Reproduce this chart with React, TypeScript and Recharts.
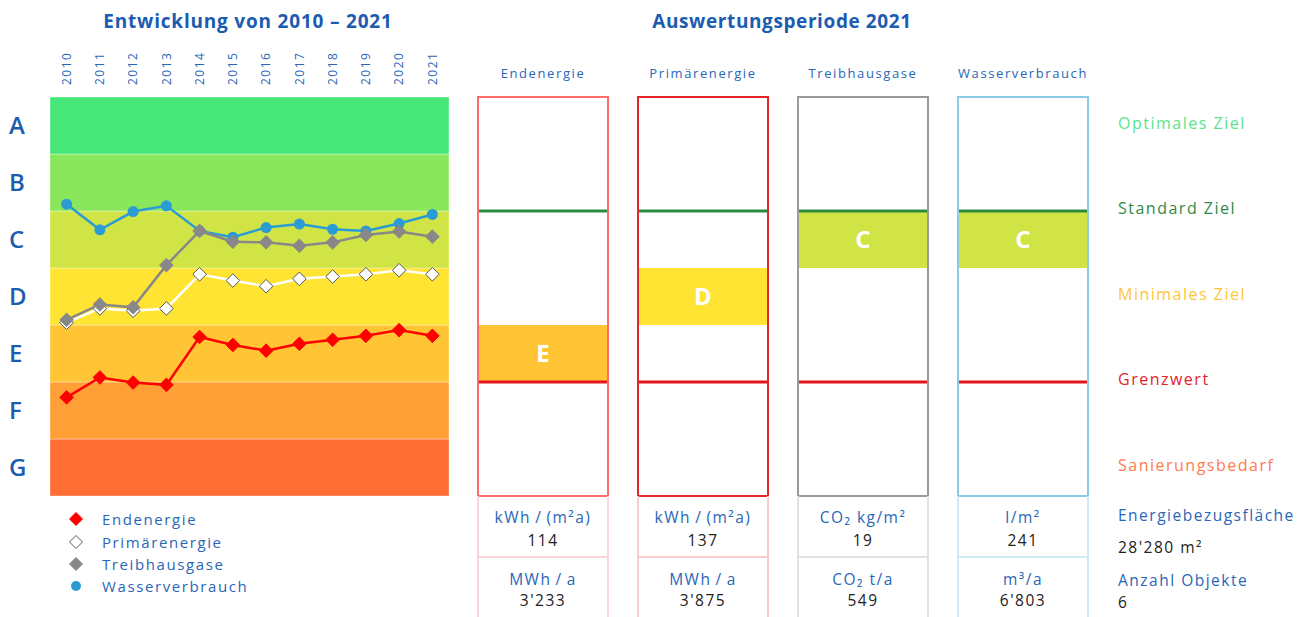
import React from 'react';
import {
  LineChart,
  Line,
  XAxis,
  YAxis,
  ReferenceArea,
  ComposedChart,
  Bar,
  Cell,
  LabelList,
} from 'recharts';

// ---- data ----
const years = ['2010', '2011', '2012', '2013', '2014', '2015', '2016', '2017', '2018', '2019', '2020', '2021'];
// values are positions on the class scale (0 = bottom of G, 7 = top of A)
const endenergie = [1.73, 2.08, 1.99, 1.95, 2.79, 2.65, 2.55, 2.67, 2.74, 2.81, 2.91, 2.81];
const primaerenergie = [3.04, 3.29, 3.25, 3.29, 3.89, 3.78, 3.68, 3.81, 3.85, 3.89, 3.96, 3.89];
const treibhausgase = [3.09, 3.36, 3.31, 4.05, 4.65, 4.46, 4.45, 4.39, 4.45, 4.58, 4.64, 4.55];
const wasserverbrauch = [5.12, 4.67, 4.99, 5.09, 4.65, 4.54, 4.71, 4.77, 4.68, 4.65, 4.78, 4.94];

const classes = ['G', 'F', 'E', 'D', 'C', 'B', 'A'];

const columns = ['Endenergie', 'Primärenergie', 'Treibhausgase', 'Wasserverbrauch'];
const columnRatings = ['E', 'D', 'C', 'C'];
const specificUnits = ['kWh\u2009/\u2009(m²a)', 'kWh\u2009/\u2009(m²a)', 'CO₂ kg/m²', 'l/m²'];
const specificValues = ['114', '137', '19', '241'];
const totalUnits = ['MWh\u2009/\u2009a', 'MWh\u2009/\u2009a', 'CO₂ t/a', 'm³/a'];
const totalValues = ["3'233", "3'875", '549', "6'803"];

const standardZielClass = 'C'; // line on top of this class
const grenzwertClass = 'F';

const targetLabels = ['Optimales Ziel', 'Standard Ziel', 'Minimales Ziel', 'Grenzwert', 'Sanierungsbedarf'];
const targetLevels = [6.5, 5, 3.5, 2, 0.5];

// ---- styles ----
const FONT = '"Open Sans", sans-serif';
const BLUE = '#2a66b8';
const TITLE_BLUE = '#1c5cb0';
const BOX_WIDTH = 130;

const classColors = ['#ff6f35', '#ff9f35', '#ffc534', '#ffe433', '#d1e446', '#8ae75c', '#47e77a'];
const columnStrokes = ['#ff6b6b', '#e3262a', '#9a9a9a', '#8ccbe6'];
const cellBorders = ['#fbd5d5', '#f8cccc', '#e2e2e2', '#d2e9f5'];
const targetColors = ['#5be38a', '#2f8a4a', '#ffc534', '#e3242b', '#ff7b4f'];

const series = [
  { key: 'wasserverbrauch', name: 'Wasserverbrauch', line: '#2b9bd3', fill: '#2b9bd3', stroke: '#2b9bd3', marker: 'circle' },
  { key: 'primaerenergie', name: 'Primärenergie', line: '#ffffff', fill: '#ffffff', stroke: '#555555', marker: 'diamond' },
  { key: 'treibhausgase', name: 'Treibhausgase', line: '#888888', fill: '#888888', stroke: '#888888', marker: 'diamond' },
  { key: 'endenergie', name: 'Endenergie', line: '#ff0000', fill: '#ff0000', stroke: '#ff0000', marker: 'diamond' },
];
const legendOrder = ['endenergie', 'primaerenergie', 'treibhausgase', 'wasserverbrauch'];

const trendData = years.map((year, i) => ({
  year,
  endenergie: endenergie[i],
  primaerenergie: primaerenergie[i],
  treibhausgase: treibhausgase[i],
  wasserverbrauch: wasserverbrauch[i],
}));

const ratingData = columns.map((name, i) => {
  const idx = classes.indexOf(columnRatings[i]);
  return {
    name,
    rating: columnRatings[i],
    band: [idx, idx + 1],
    box: [0, classes.length],
    standard: classes.indexOf(standardZielClass) + 1,
    grenz: classes.indexOf(grenzwertClass) + 1,
  };
});

const diamondPath = (cx: number, cy: number, r: number) =>
  `M${cx},${cy - r}L${cx + r},${cy}L${cx},${cy + r}L${cx - r},${cy}Z`;

const makeDot = (s: (typeof series)[number]) => (props: any) => {
  const { cx, cy, index } = props;
  if (cx == null || cy == null) return <g key={index} />;
  if (s.marker === 'circle') {
    return <circle key={index} cx={cx} cy={cy} r={5.5} fill={s.fill} />;
  }
  return <path key={index} d={diamondPath(cx, cy, 6.8)} fill={s.fill} stroke={s.stroke} strokeWidth={1} />;
};

const renderYearTick = (props: any) => {
  const { x, y, payload } = props;
  return (
    <text
      x={x}
      y={y}
      dy="0.36em"
      transform={`rotate(-90 ${x} ${y})`}
      textAnchor="start"
      fill={BLUE}
      fontSize={12}
      fontFamily={FONT}
      style={{ letterSpacing: 1.5 }}
    >
      {payload.value}
    </text>
  );
};

const renderClassTick = (props: any) => {
  const { x, y, payload } = props;
  return (
    <text x={x} y={y} dy="0.36em" textAnchor="start" fill={TITLE_BLUE} fontSize={24} fontWeight={600} fontFamily={FONT}>
      {classes[Math.floor(payload.value)]}
    </text>
  );
};

const renderHeadTick = (props: any) => {
  const { x, y, payload } = props;
  return (
    <text x={x} y={y - 24} dy="0.36em" textAnchor="middle" fill={BLUE} fontSize={13} fontFamily={FONT} style={{ letterSpacing: 1.6 }}>
      {payload.value}
    </text>
  );
};

const renderTargetTick = (props: any) => {
  const { x, y, payload } = props;
  const i = targetLevels.indexOf(payload.value);
  return (
    <text x={x} y={y} dy="0.2em" textAnchor="start" fill={targetColors[i]} fontSize={16} fontFamily={FONT} style={{ letterSpacing: 1.5 }}>
      {targetLabels[i]}
    </text>
  );
};

const renderTableTick = (props: any) => {
  const { x, y, index } = props;
  const half = BOX_WIDTH / 2;
  const c = cellBorders[index];
  const txt = { textAnchor: 'middle' as const, fontSize: 15.5, fontFamily: FONT, style: { letterSpacing: 1.5 } };
  return (
    <g>
      <line x1={x - half} y1={y} x2={x - half} y2={y + 121} stroke={c} strokeWidth={2} />
      <line x1={x + half} y1={y} x2={x + half} y2={y + 121} stroke={c} strokeWidth={2} />
      <line x1={x - half} y1={y + 61} x2={x + half} y2={y + 61} stroke={c} strokeWidth={2} />
      <text x={x} y={y + 21} dy="0.36em" fill={BLUE} {...txt}>{specificUnits[index]}</text>
      <text x={x} y={y + 44} dy="0.36em" fill="#222" {...txt}>{specificValues[index]}</text>
      <text x={x} y={y + 83} dy="0.36em" fill={BLUE} {...txt}>{totalUnits[index]}</text>
      <text x={x} y={y + 104} dy="0.36em" fill="#222" {...txt}>{totalValues[index]}</text>
    </g>
  );
};

const topLine = (color: string) => (props: any) => {
  const { x, y, width } = props;
  return <line x1={x} x2={x + width} y1={y} y2={y} stroke={color} strokeWidth={3} />;
};

const LegendMarker = ({ s }: { s: (typeof series)[number] }) => (
  <svg width={16} height={16} style={{ marginRight: 18 }}>
    {s.marker === 'circle' ? (
      <circle cx={8} cy={8} r={5} fill={s.fill} />
    ) : (
      <path d={diamondPath(8, 8, 6.5)} fill={s.fill} stroke={s.stroke} strokeWidth={1} />
    )}
  </svg>
);

const textAt = (top: number, color: string) => ({
  position: 'absolute' as const,
  left: 1118,
  top,
  lineHeight: '20px',
  fontSize: 15.5,
  letterSpacing: 1.5,
  color,
  whiteSpace: 'nowrap' as const,
});

const titleStyle = {
  position: 'absolute' as const,
  top: 12,
  textAlign: 'center' as const,
  fontSize: 19,
  lineHeight: '19px',
  fontWeight: 700,
  color: TITLE_BLUE,
};

export default function App() {
  return (
    <div style={{ position: 'absolute', left: 0, top: 0, width: 1314, height: 617, background: '#fff', fontFamily: FONT }}>
      <div style={{ ...titleStyle, left: 0, width: 496, letterSpacing: 0.8 }}>Entwicklung von 2010 – 2021</div>
      <div style={{ ...titleStyle, left: 582, width: 400, letterSpacing: 0.6 }}>Auswertungsperiode 2021</div>

      <div style={{ position: 'absolute', left: 0, top: 0 }}>
        <LineChart width={460} height={496} data={trendData} margin={{ top: 57, right: 11, bottom: 0, left: 0 }}>
          <XAxis
            dataKey="year"
            scale="band"
            orientation="top"
            height={40}
            axisLine={false}
            tickLine={false}
            tickSize={0}
            tickMargin={12}
            interval={0}
            tick={renderYearTick}
          />
          <YAxis
            type="number"
            domain={[0, 7]}
            ticks={[0.5, 1.5, 2.5, 3.5, 4.5, 5.5, 6.5]}
            width={50}
            axisLine={false}
            tickLine={false}
            tickSize={0}
            tickMargin={41}
            tick={renderClassTick}
          />
          {classes.map((c, i) => (
            <ReferenceArea
              key={c}
              y1={i}
              y2={i + 1}
              fill={classColors[i]}
              fillOpacity={1}
              stroke="#ffffff"
              strokeOpacity={0.35}
            />
          ))}
          {series.map((s) => (
            <Line
              key={s.key}
              dataKey={s.key}
              name={s.name}
              type="linear"
              stroke={s.line}
              strokeWidth={2.5}
              dot={makeDot(s)}
              activeDot={false}
              isAnimationActive={false}
            />
          ))}
        </LineChart>
      </div>

      <div style={{ position: 'absolute', left: 68, top: 508 }}>
        {legendOrder.map((k) => {
          const s = series.find((d) => d.key === k)!;
          return (
            <div key={k} style={{ display: 'flex', alignItems: 'center', height: 22.4 }}>
              <LegendMarker s={s} />
              <span style={{ color: BLUE, fontSize: 15, letterSpacing: 1.6 }}>{s.name}</span>
            </div>
          );
        })}
      </div>

      <div style={{ position: 'absolute', left: 463, top: 0 }}>
        <ComposedChart
          width={851}
          height={617}
          data={ratingData}
          margin={{ top: 57, right: 0, bottom: 0, left: 0 }}
          barSize={BOX_WIDTH}
          barGap={-BOX_WIDTH}
        >
          <XAxis dataKey="name" xAxisId="head" orientation="top" height={40} axisLine={false} tickLine={false} tickSize={0} tickMargin={0} interval={0} tick={renderHeadTick} />
          <XAxis dataKey="name" orientation="bottom" height={121} axisLine={false} tickLine={false} tickSize={0} tickMargin={0} interval={0} tick={renderTableTick} />
          <YAxis
            type="number"
            domain={[0, 7]}
            orientation="right"
            ticks={targetLevels}
            width={211}
            axisLine={false}
            tickLine={false}
            tickSize={0}
            tickMargin={15}
            tick={renderTargetTick}
          />
          <Bar dataKey="band" isAnimationActive={false}>
            {ratingData.map((d) => (
              <Cell key={d.name} fill={classColors[classes.indexOf(d.rating)]} />
            ))}
            <LabelList dataKey="rating" position="center" fill="#ffffff" fontSize={24} fontWeight={700} fontFamily={FONT} />
          </Bar>
          <Bar dataKey="standard" fill="none" shape={topLine('#2e8b3e')} isAnimationActive={false} />
          <Bar dataKey="grenz" fill="none" shape={topLine('#e3161b')} isAnimationActive={false} />
          <Bar dataKey="box" fill="none" strokeWidth={2} isAnimationActive={false}>
            {ratingData.map((d, i) => (
              <Cell key={d.name} fill="none" stroke={columnStrokes[i]} />
            ))}
          </Bar>
        </ComposedChart>
      </div>

      <div style={textAt(505, BLUE)}>Energiebezugsfläche</div>
      <div style={textAt(537, '#222')}>28'280 m²</div>
      <div style={textAt(570, BLUE)}>Anzahl Objekte</div>
      <div style={textAt(592, '#222')}>6</div>
    </div>
  );
}
